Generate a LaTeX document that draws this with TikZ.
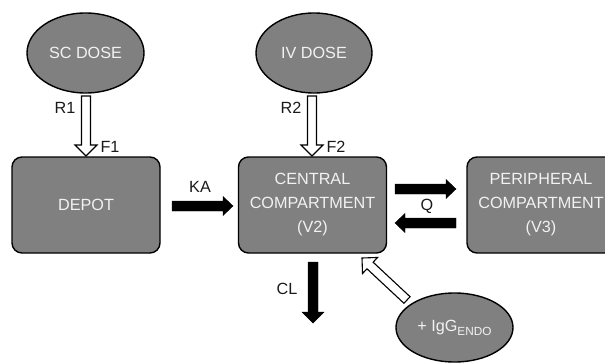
\documentclass[tikz,border=0pt]{standalone}
\usepackage{fontspec}
\setmainfont{Liberation Sans}
\usetikzlibrary{shapes.geometric,calc}
\definecolor{boxgray}{HTML}{808080}
\definecolor{txtlight}{HTML}{F2F2F2}
\definecolor{lbl}{HTML}{1A1A1A}
\newcommand\blockarrow[6]{% style, from, to, shaft half, head half, head length
  \coordinate (hb) at ($(#3)!#6!(#2)$);
  \draw[#1] ($(#2)!#4!90:(#3)$) -- ($(hb)!#4!-90:(#2)$) -- ($(hb)!#5!-90:(#2)$) -- (#3)
    -- ($(hb)!#5!90:(#2)$) -- ($(hb)!#4!90:(#2)$) -- ($(#2)!#4!-90:(#3)$) -- cycle;}
\tikzset{
  blob/.style={ellipse, draw=black, line width=1.4pt, fill=boxgray, inner sep=0pt,
    text=txtlight, font=\fontsize{16.2}{24}\selectfont},
  comp/.style={rectangle, rounded corners=10pt, draw=black, line width=1.4pt, fill=boxgray,
    minimum width=148pt, minimum height=96pt, inner sep=0pt, align=center,
    text=txtlight, font=\fontsize{16.2}{24}\selectfont},
  lab/.style={text=lbl, inner sep=0pt, font=\fontsize{16.2}{18}\selectfont},
  openarrow/.style={draw=black, fill=white, line width=1.1pt, line join=miter},
  solidarrow/.style={draw=black, fill=black, line width=0.4pt, line join=miter}
}
\begin{document}
\begin{tikzpicture}[x=1pt,y=-1pt]
\useasboundingbox (0,0) rectangle (605,364);
\clip (0,0) rectangle (605,364);
\node[blob, minimum width=117pt, minimum height=80pt] (sc) at (85.5,53) {SC DOSE};
\node[blob, minimum width=116pt, minimum height=80pt] (iv) at (314,53) {IV DOSE};
\node[blob, minimum width=117pt, minimum height=69pt] (igg) at (454.5,327.5)
  {+ IgG\raisebox{-0.45ex}{\fontsize{11.8}{12}\selectfont ENDO}};
\node[comp] (depot) at (86,205) {DEPOT};
\node[comp] (central) at (312.5,205) {CENTRAL\\COMPARTMENT\\(V2)};
\node[comp] (periph) at (541,205) {PERIPHERAL\\COMPARTMENT\\(V3)};
% arrow end points
\coordinate (r1a) at (86,96);   \coordinate (r1b) at (86,156);
\coordinate (r2a) at (312,96);  \coordinate (r2b) at (312,156);
\coordinate (kaa) at (172,206); \coordinate (kab) at (233,206);
\coordinate (qa) at (395,189);  \coordinate (qb) at (456,189);
\coordinate (qc) at (456,223);  \coordinate (qd) at (395,223);
\coordinate (cla) at (313,262); \coordinate (clb) at (313,323);
\coordinate (ga) at (407,300);  \coordinate (gb) at (362,258);
\blockarrow{openarrow}{r1a}{r1b}{4.5pt}{11pt}{11pt}
\blockarrow{openarrow}{r2a}{r2b}{4.5pt}{11pt}{11pt}
\blockarrow{openarrow}{ga}{gb}{4.5pt}{11pt}{11pt}
\blockarrow{solidarrow}{kaa}{kab}{5pt}{9.5pt}{10pt}
\blockarrow{solidarrow}{qa}{qb}{5pt}{9.5pt}{10pt}
\blockarrow{solidarrow}{qc}{qd}{5pt}{9.5pt}{10pt}
\blockarrow{solidarrow}{cla}{clb}{5pt}{11pt}{11pt}
% labels
\node[lab] (lr1) at (65,108) {R1};
\node[lab] (lf1) at (110,147) {F1};
\node[lab] (lr2) at (291,108) {R2};
\node[lab] (lf2) at (336,147) {F2};
\node[lab] (lka) at (200,187) {KA};
\node[lab] (lq) at (427,206) {Q};
\node[lab] (lcl) at (287,289) {CL};
\end{tikzpicture}
\end{document}
